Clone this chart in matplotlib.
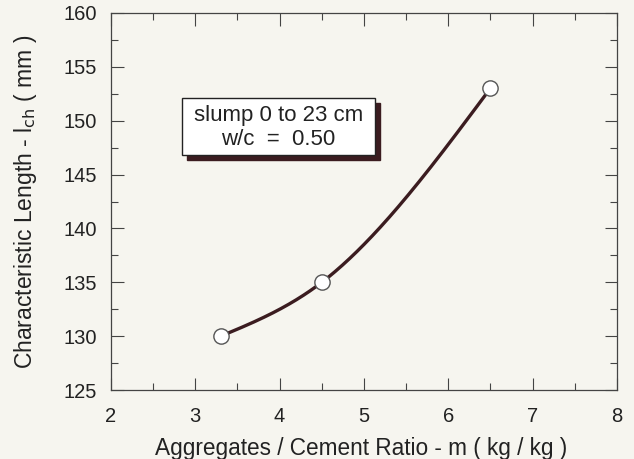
import numpy as np
import matplotlib.pyplot as plt
from matplotlib.ticker import MultipleLocator
from matplotlib.patches import Rectangle

# data
ratio_m = [3.3, 4.5, 6.5]          # aggregates / cement ratio (kg/kg)
l_ch = [130.0, 135.0, 153.0]       # characteristic length (mm)
x_ticks = [2, 3, 4, 5, 6, 7, 8]
y_ticks = [125, 130, 135, 140, 145, 150, 155, 160]

ink = "#3b1c20"
paper = "#f6f5ef"

plt.rcParams["font.family"] = ["Liberation Sans", "DejaVu Sans"]


def natural_spline(x, y, xs):
    """Natural cubic spline through (x, y), evaluated at xs."""
    x = np.asarray(x, float)
    y = np.asarray(y, float)
    n = len(x)
    h = np.diff(x)
    A = np.zeros((n, n))
    b = np.zeros(n)
    A[0, 0] = A[-1, -1] = 1.0
    for i in range(1, n - 1):
        A[i, i - 1] = h[i - 1]
        A[i, i] = 2 * (h[i - 1] + h[i])
        A[i, i + 1] = h[i]
        b[i] = 6 * ((y[i + 1] - y[i]) / h[i] - (y[i] - y[i - 1]) / h[i - 1])
    M = np.linalg.solve(A, b)
    out = np.empty_like(xs)
    for k, xv in enumerate(xs):
        i = min(np.searchsorted(x, xv, side="right") - 1, n - 2)
        i = max(i, 0)
        t0 = x[i + 1] - xv
        t1 = xv - x[i]
        out[k] = (M[i] * t0**3 + M[i + 1] * t1**3) / (6 * h[i]) \
            + (y[i] / h[i] - M[i] * h[i] / 6) * t0 \
            + (y[i + 1] / h[i] - M[i + 1] * h[i] / 6) * t1
    return out


fig = plt.figure(figsize=(6.34, 4.59), dpi=100, facecolor=paper)
ax = fig.add_axes([0.175, 0.150, 0.798, 0.822])
ax.set_facecolor(paper)

xs = np.linspace(ratio_m[0], ratio_m[-1], 300)
ax.plot(xs, natural_spline(ratio_m, l_ch, xs), color=ink, lw=2.4, zorder=2)
ax.plot(ratio_m, l_ch, "o", ms=11, mfc="white", mec="#555555", mew=1.0, zorder=3)

ax.set_xlim(2, 8)
ax.set_ylim(125, 160)
ax.set_xticks(x_ticks)
ax.set_yticks(y_ticks)
ax.xaxis.set_minor_locator(MultipleLocator(0.5))
ax.yaxis.set_minor_locator(MultipleLocator(2.5))
ax.tick_params(which="both", direction="in", top=True, right=True,
               color="#444444", width=0.8)
ax.tick_params(which="major", length=9, labelsize=14.5,
               labelcolor="#222222")
ax.tick_params(axis="x", which="major", pad=12)
ax.tick_params(axis="y", which="major", pad=10)
ax.tick_params(which="minor", length=5)
for s in ax.spines.values():
    s.set_color("#444444")
    s.set_linewidth(0.9)

ax.set_xlabel("Aggregates / Cement Ratio - m ( kg / kg )", fontsize=16.3,
              color="#222222")
ax.set_ylabel(r"Characteristic Length - l$_{\rm ch}$ ( mm )", fontsize=16.5,
              color="#222222")
ax.xaxis.set_label_coords(0.495, -0.125)
ax.yaxis.set_label_coords(-0.142, 0.5)

# annotation box with shadow
bx, by, bw, bh = 2.84, 146.8, 2.29, 5.3
ax.add_patch(Rectangle((bx + 0.06, by - 0.46), bw, bh, facecolor=ink,
                       edgecolor=ink, zorder=4))
ax.add_patch(Rectangle((bx, by), bw, bh, facecolor="white",
                       edgecolor="#222222", lw=1.0, zorder=5))
ax.text(bx + bw / 2, by + bh * 0.70, "slump 0 to 23 cm", ha="center",
        va="center", fontsize=16, color="#222222", zorder=6)
ax.text(bx + bw / 2, by + bh * 0.28, "w/c  =  0.50", ha="center",
        va="center", fontsize=16, color="#222222", zorder=6)

fig.savefig("out.png", dpi=100, facecolor=paper)
